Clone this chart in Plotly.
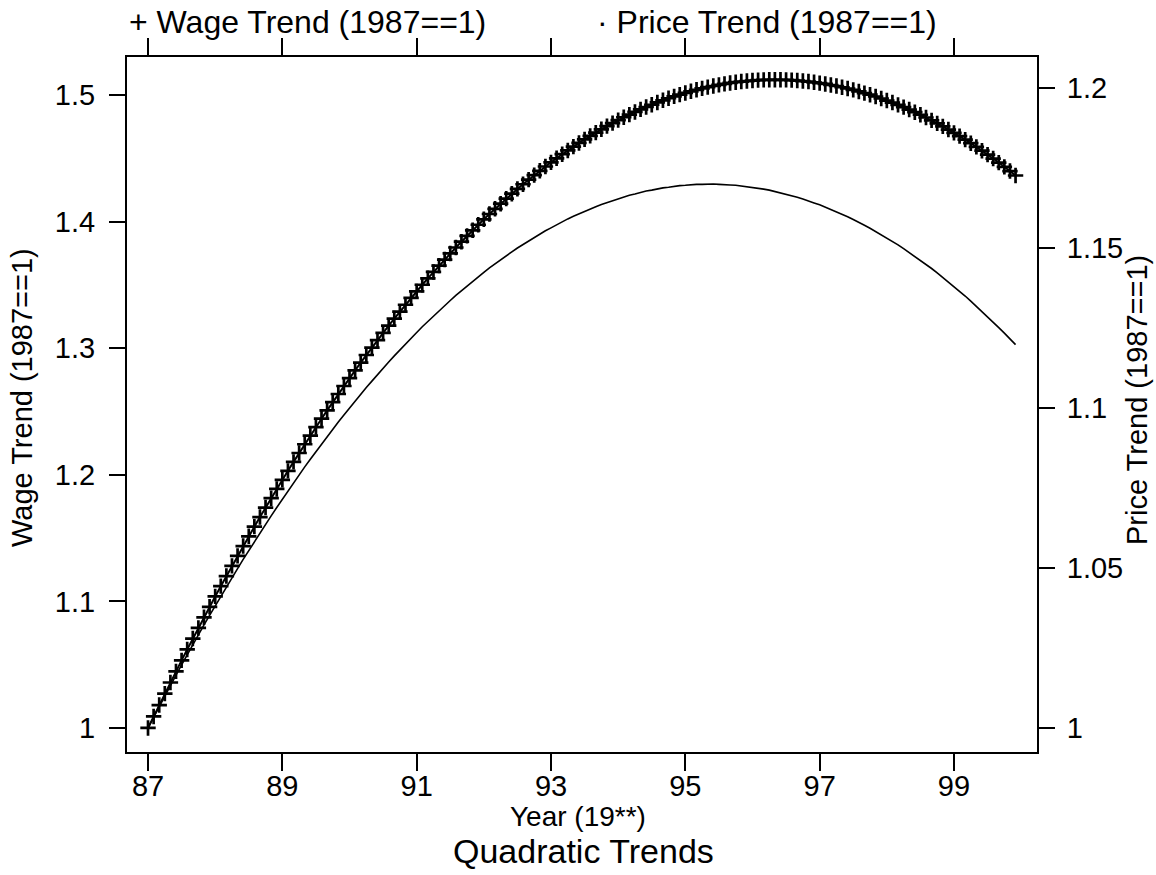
import numpy as np
import plotly.graph_objects as go

# ---- data (monthly quadratic trends, 1987m1 .. 1999m12) ----
start_year = 87
n_months = 156
years = start_year + np.arange(n_months) / 12.0

wage_trend = [1.0000,1.0091,1.0181,1.0271,1.0359,1.0447,1.0534,1.0620,1.0706,1.0790,
1.0874,1.0957,1.1039,1.1120,1.1200,1.1280,1.1359,1.1437,1.1514,1.1590,
1.1666,1.1741,1.1815,1.1888,1.1960,1.2031,1.2102,1.2172,1.2241,1.2309,
1.2376,1.2443,1.2509,1.2574,1.2638,1.2701,1.2763,1.2825,1.2886,1.2946,
1.3005,1.3064,1.3121,1.3178,1.3234,1.3289,1.3343,1.3397,1.3449,1.3501,
1.3552,1.3602,1.3652,1.3700,1.3748,1.3795,1.3841,1.3887,1.3931,1.3975,
1.4018,1.4060,1.4101,1.4141,1.4181,1.4220,1.4258,1.4295,1.4331,1.4367,
1.4401,1.4435,1.4468,1.4500,1.4532,1.4562,1.4592,1.4621,1.4649,1.4677,
1.4703,1.4729,1.4754,1.4778,1.4801,1.4824,1.4845,1.4866,1.4886,1.4905,
1.4923,1.4941,1.4958,1.4974,1.4989,1.5003,1.5016,1.5029,1.5041,1.5052,
1.5062,1.5071,1.5080,1.5088,1.5095,1.5101,1.5106,1.5110,1.5114,1.5117,
1.5119,1.5120,1.5120,1.5120,1.5119,1.5117,1.5114,1.5110,1.5106,1.5100,
1.5094,1.5087,1.5079,1.5071,1.5061,1.5051,1.5040,1.5028,1.5015,1.5002,
1.4988,1.4972,1.4956,1.4940,1.4922,1.4904,1.4885,1.4864,1.4844,1.4822,
1.4799,1.4776,1.4752,1.4727,1.4701,1.4675,1.4647,1.4619,1.4590,1.4560,
1.4529,1.4498,1.4466,1.4432,1.4399,1.4364]

price_trend = [1.0000,1.0034,1.0067,1.0100,1.0133,1.0165,1.0197,1.0229,1.0260,1.0291,
1.0322,1.0352,1.0382,1.0412,1.0441,1.0470,1.0498,1.0527,1.0555,1.0582,
1.0610,1.0637,1.0663,1.0689,1.0715,1.0741,1.0766,1.0791,1.0816,1.0840,
1.0864,1.0887,1.0911,1.0934,1.0956,1.0978,1.1000,1.1022,1.1043,1.1064,
1.1084,1.1105,1.1124,1.1144,1.1163,1.1182,1.1200,1.1219,1.1236,1.1254,
1.1271,1.1288,1.1304,1.1321,1.1336,1.1352,1.1367,1.1382,1.1396,1.1410,
1.1424,1.1438,1.1451,1.1464,1.1476,1.1488,1.1500,1.1511,1.1522,1.1533,
1.1544,1.1554,1.1563,1.1573,1.1582,1.1591,1.1599,1.1607,1.1615,1.1622,
1.1629,1.1636,1.1642,1.1648,1.1654,1.1660,1.1665,1.1669,1.1674,1.1678,
1.1681,1.1685,1.1688,1.1690,1.1693,1.1695,1.1696,1.1698,1.1699,1.1699,
1.1700,1.1700,1.1699,1.1699,1.1697,1.1696,1.1694,1.1692,1.1690,1.1687,
1.1684,1.1681,1.1677,1.1673,1.1669,1.1664,1.1659,1.1653,1.1648,1.1641,
1.1635,1.1628,1.1621,1.1614,1.1606,1.1598,1.1589,1.1581,1.1571,1.1562,
1.1552,1.1542,1.1532,1.1521,1.1510,1.1498,1.1486,1.1474,1.1462,1.1449,
1.1436,1.1422,1.1408,1.1394,1.1380,1.1365,1.1350,1.1334,1.1318,1.1302,
1.1285,1.1269,1.1251,1.1234,1.1216,1.1198]

x_ticks = [87, 89, 91, 93, 95, 97, 99]
x_tick_labels = ["87", "89", "91", "93", "95", "97", "99"]
wage_ticks = [1, 1.1, 1.2, 1.3, 1.4, 1.5]
wage_tick_labels = ["1", "1.1", "1.2", "1.3", "1.4", "1.5"]
price_ticks = [1, 1.05, 1.1, 1.15, 1.2]
price_tick_labels = ["1", "1.05", "1.1", "1.15", "1.2"]

wage_label = "Wage Trend (1987==1)"
price_label = "Price Trend (1987==1)"
x_title = "Year (19**)"
chart_title = "Quadratic Trends"

# ---- layout geometry ----
W, H = 1156, 875
L, R, T, B = 127, 1037, 57, 752   # plot box in pixels
FONT = "Liberation Sans, Arial, sans-serif"
X_RANGE = [86.687, 100.236]

def px(xp):
    return (xp - L) / (R - L)

def py(yp):
    return (B - yp) / (B - T)

fig = go.Figure()
fig.add_trace(go.Scatter(
    x=years, y=wage_trend, name=wage_label, mode="lines+markers",
    line=dict(color="black", width=2),
    marker=dict(symbol="cross-thin-open", size=11, line=dict(color="black", width=2.7)),
    xaxis="x", yaxis="y", showlegend=False,
))
fig.add_trace(go.Scatter(
    x=years, y=price_trend, name=price_label, mode="lines",
    line=dict(color="black", width=1.6),
    xaxis="x2", yaxis="y2", showlegend=False,
))

axis_common = dict(
    showgrid=False, zeroline=False, showline=True, linecolor="black", linewidth=2,
    ticks="outside", tickcolor="black", tickwidth=2,
    tickfont=dict(family=FONT, size=29, color="black"),
)

fig.update_layout(
    width=W, height=H,
    margin=dict(l=L, r=W - R, t=T, b=H - B, pad=0),
    paper_bgcolor="white", plot_bgcolor="white",
    font=dict(family=FONT, color="black"),
    xaxis=dict(range=X_RANGE, tickvals=x_ticks, ticktext=x_tick_labels,
               ticklen=17, ticklabelstandoff=-10, **axis_common),
    xaxis2=dict(range=X_RANGE, tickvals=x_ticks, showticklabels=False,
                overlaying="x", side="top", ticklen=17, **axis_common),
    yaxis=dict(range=[0.981, 1.530], tickvals=wage_ticks, ticktext=wage_tick_labels,
               ticklen=16, ticklabelstandoff=8, **axis_common),
    yaxis2=dict(range=[0.9925, 1.2097], tickvals=price_ticks, ticktext=price_tick_labels,
                overlaying="y", side="right", ticklen=16, ticklabelstandoff=6, **axis_common),
)

ann = []
# legend row
ann.append(dict(text="+ " + wage_label, x=px(127), y=py(22), xref="paper", yref="paper",
                xanchor="left", yanchor="middle", showarrow=False,
                font=dict(family=FONT, size=32, color="black")))
ann.append(dict(text="\u00b7 " + price_label, x=px(595), y=py(22), xref="paper", yref="paper",
                xanchor="left", yanchor="middle", showarrow=False,
                font=dict(family=FONT, size=32, color="black")))
# axis titles
ann.append(dict(text=x_title, x=px(578), y=py(816), xref="paper", yref="paper",
                xanchor="center", yanchor="middle", showarrow=False,
                font=dict(family=FONT, size=28, color="black")))
ann.append(dict(text=chart_title, x=px(583), y=py(851), xref="paper", yref="paper",
                xanchor="center", yanchor="middle", showarrow=False,
                font=dict(family=FONT, size=34, color="black")))
ann.append(dict(text=wage_label, x=px(22), y=py(398), xref="paper", yref="paper",
                xanchor="center", yanchor="middle", textangle=-90, showarrow=False,
                font=dict(family=FONT, size=29, color="black")))
ann.append(dict(text=price_label, x=px(1137), y=py(400), xref="paper", yref="paper",
                xanchor="center", yanchor="middle", textangle=-90, showarrow=False,
                font=dict(family=FONT, size=29, color="black")))
fig.update_layout(annotations=ann)

# the reference image is cropped at its left edge, cutting the tops of the left title
fig.add_shape(type="rect", xref="paper", yref="paper", layer="above",
              x0=px(0), x1=px(14), y0=py(570), y1=py(230),
              fillcolor="white", line=dict(width=0))

fig.write_html("out.html")
